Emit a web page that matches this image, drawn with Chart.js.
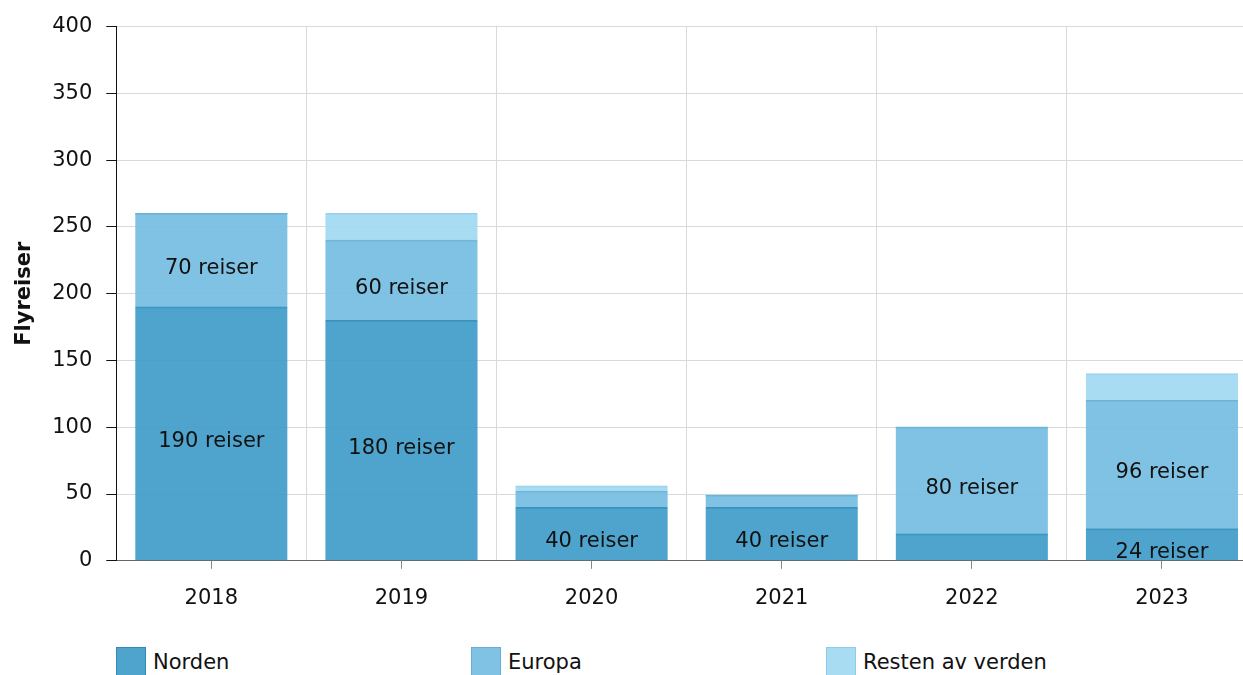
<!DOCTYPE html>
<html>
<head>
<meta charset="utf-8">
<script src="https://cdn.jsdelivr.net/npm/chart.js@4/dist/chart.umd.min.js"></script>
<style>
  html, body { margin: 0; padding: 0; background: #fff; overflow: hidden; }
  #wrap { position: relative; width: 1262px; height: 640px; }
  #legend { position: absolute; left: 116px; top: 647px; font-family: "DejaVu Sans", Verdana, sans-serif; font-size: 21px; color: #111; }
  .item { position: absolute; top: 0; white-space: nowrap; }
  .box { position: absolute; left: 0; top: 0; width: 30px; height: 30px; box-sizing: border-box; }
  .lbl { position: absolute; left: 37px; top: 3px; }
</style>
</head>
<body>
<div id="wrap"><canvas id="chart" width="1262" height="640"></canvas></div>
<div id="legend"></div>
<script>
// Données
const years = ['2018', '2019', '2020', '2021', '2022', '2023'];
const norden = [190, 180, 40, 40, 20, 24];
const europa = [70, 60, 12, 9, 80, 96];
const resten = [0, 20, 4, 0, 0, 20];
const seriesNames = ['Norden', 'Europa', 'Resten av verden'];

const fills = ['rgba(59,154,198,0.9)', 'rgba(114,187,224,0.9)', 'rgba(158,216,242,0.9)'];
const edges = ['rgba(45,135,180,0.9)', 'rgba(100,172,212,0.9)', 'rgba(140,202,232,0.9)'];
const fontFamily = '"DejaVu Sans", Verdana, sans-serif';

// Étiquettes "xx reiser" au milieu des segments
const segmentLabels = {
    id: 'segmentLabels',
    afterDatasetsDraw(chart) {
        const ctx = chart.ctx;
        ctx.save();
        ctx.font = '21px ' + fontFamily;
        ctx.fillStyle = '#111';
        ctx.textAlign = 'center';
        ctx.textBaseline = 'middle';
        chart.data.datasets.forEach((ds, i) => {
            chart.getDatasetMeta(i).data.forEach((bar, j) => {
                const v = ds.data[j];
                if (v > 20) {
                    ctx.fillText(v + ' reiser', bar.x, (bar.y + bar.base) / 2 + 8);
                }
            });
        });
        ctx.restore();
    }
};

const datasets = [norden, europa, resten].map((d, i) => ({
    label: seriesNames[i],
    data: d,
    backgroundColor: fills[i],
    borderColor: edges[i],
    borderWidth: { top: 1, left: 0, right: 0, bottom: 0 },
    inflateAmount: 0.5,
    barPercentage: 0.8,
    categoryPercentage: 1
}));

new Chart(document.getElementById('chart'), {
    type: 'bar',
    data: { labels: years, datasets: datasets },
    options: {
        responsive: false,
        animation: false,
        maintainAspectRatio: false,
        layout: { padding: { top: 15, right: 5, bottom: 12, left: 0 } },
        plugins: {
            legend: { display: false },
            tooltip: { enabled: false }
        },
        scales: {
            x: {
                stacked: true,
                offset: true,
                grid: { offset: false, drawOnChartArea: false, tickLength: 8, color: '#888', tickColor: '#888' },
                border: { color: '#666', width: 1 },
                ticks: { color: '#111', padding: 17, maxRotation: 0, font: { family: fontFamily, size: 21 } }
            },
            xg: {
                type: 'category',
                labels: years,
                position: 'top',
                offset: true,
                grid: { offset: true, color: '#d9d9d9', drawTicks: false },
                border: { display: false },
                ticks: { display: false }
            },
            y: {
                stacked: true,
                min: 0,
                max: 400,
                ticks: { stepSize: 50, color: '#111', padding: 14, font: { family: fontFamily, size: 21 } },
                grid: { color: '#d9d9d9', tickLength: 10, tickColor: '#111' },
                border: { color: '#111', width: 1 },
                title: {
                    display: true,
                    text: 'Flyreiser',
                    color: '#111',
                    padding: { top: 12, bottom: 1 },
                    font: { family: fontFamily, size: 21, weight: 'bold' }
                }
            }
        }
    },
    plugins: [segmentLabels]
});

// Légende HTML en colonnes fixes
const legend = document.getElementById('legend');
seriesNames.forEach((name, i) => {
    const item = document.createElement('div');
    item.className = 'item';
    item.style.left = (i * 355) + 'px';
    item.innerHTML = '<div class="box" style="background:' + fills[i] + ';border:1px solid ' + edges[i] + '"></div><div class="lbl">' + name + '</div>';
    legend.appendChild(item);
});
</script>
</body>
</html>
